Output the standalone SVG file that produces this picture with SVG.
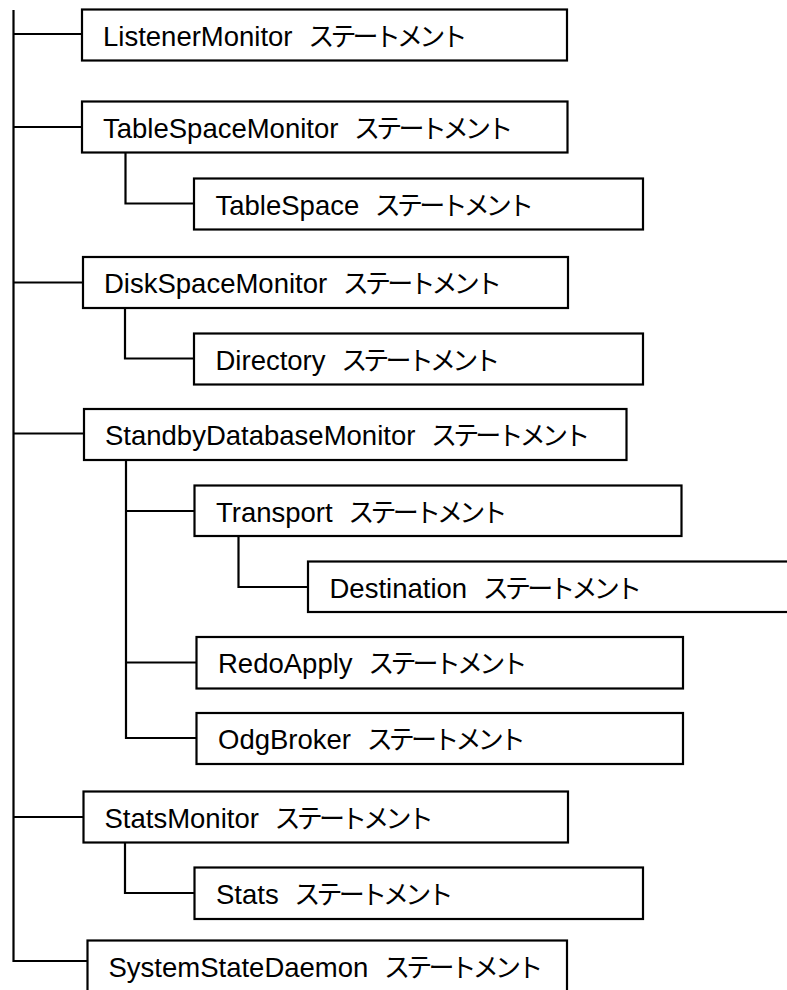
<svg xmlns="http://www.w3.org/2000/svg" width="787" height="990" viewBox="0 0 787 990">
<style>
.box{fill:#fff;stroke:#000;stroke-width:2.2}
.ln{fill:none;stroke:#000;stroke-width:2.2}
.lbl{font-family:"Liberation Sans",Arial,sans-serif;font-size:27.5px;fill:#000}
.jp{font-family:"Noto Sans CJK JP",sans-serif;font-size:26px;letter-spacing:-3.8px}
</style>
<rect width="787" height="990" fill="#fff"/>
<g id="connectors">
<path class="ln" d="M13.5 10V961H87.5"/>
<path class="ln" d="M13.5 34H82"/>
<path class="ln" d="M13.5 127H82"/>
<path class="ln" d="M13.5 282.5H83"/>
<path class="ln" d="M13.5 433.5H84"/>
<path class="ln" d="M13.5 817H83.5"/>
<path class="ln" d="M125.5 152.5V203.5H194"/>
<path class="ln" d="M125 308V358.5H194"/>
<path class="ln" d="M126 460V738H196.5"/>
<path class="ln" d="M126 511H194.5"/>
<path class="ln" d="M126 662.5H196.5"/>
<path class="ln" d="M238.5 536V587H308"/>
<path class="ln" d="M125 842.5V893H194.5"/>
</g>
<g id="n-listener"><rect class="box" x="82" y="9.5" width="485" height="51"/><text class="lbl" x="103" y="45.5">ListenerMonitor <tspan class="jp" dx="8">ステートメント</tspan></text></g>
<g id="n-tablespacemonitor"><rect class="box" x="82" y="101.5" width="485.5" height="51"/><text class="lbl" x="103" y="137.5">TableSpaceMonitor <tspan class="jp" dx="8">ステートメント</tspan></text></g>
<g id="n-tablespace"><rect class="box" x="194" y="178.5" width="449" height="51"/><text class="lbl" x="215.5" y="214.5">TableSpace <tspan class="jp" dx="8">ステートメント</tspan></text></g>
<g id="n-diskspacemonitor"><rect class="box" x="83" y="257" width="485" height="51"/><text class="lbl" x="104" y="293">DiskSpaceMonitor <tspan class="jp" dx="8">ステートメント</tspan></text></g>
<g id="n-directory"><rect class="box" x="194" y="333.5" width="449" height="51"/><text class="lbl" x="215.5" y="369.5">Directory <tspan class="jp" dx="8">ステートメント</tspan></text></g>
<g id="n-standby"><rect class="box" x="84" y="409" width="542.5" height="51"/><text class="lbl" x="105" y="445">StandbyDatabaseMonitor <tspan class="jp" dx="8">ステートメント</tspan></text></g>
<g id="n-transport"><rect class="box" x="194.5" y="485.5" width="487" height="50.5"/><text class="lbl" x="216" y="521.5">Transport <tspan class="jp" dx="8">ステートメント</tspan></text></g>
<g id="n-destination"><rect class="box" x="308" y="561.5" width="500" height="50.5"/><text class="lbl" x="329.5" y="597.5">Destination <tspan class="jp" dx="8">ステートメント</tspan></text></g>
<g id="n-redoapply"><rect class="box" x="196.5" y="637" width="486.5" height="51.5"/><text class="lbl" x="218" y="673">RedoApply <tspan class="jp" dx="8">ステートメント</tspan></text></g>
<g id="n-odgbroker"><rect class="box" x="196.5" y="713" width="486.5" height="51"/><text class="lbl" x="218" y="749">OdgBroker <tspan class="jp" dx="8">ステートメント</tspan></text></g>
<g id="n-statsmonitor"><rect class="box" x="83.5" y="791.5" width="484.5" height="51"/><text class="lbl" x="104.5" y="827.5">StatsMonitor <tspan class="jp" dx="8">ステートメント</tspan></text></g>
<g id="n-stats"><rect class="box" x="194.5" y="867.5" width="448.5" height="51.5"/><text class="lbl" x="216" y="903.5">Stats <tspan class="jp" dx="8">ステートメント</tspan></text></g>
<g id="n-systemstatedaemon"><rect class="box" x="87.5" y="940.5" width="479.5" height="70"/><text class="lbl" x="108.5" y="976.5">SystemStateDaemon <tspan class="jp" dx="8">ステートメント</tspan></text></g>
</svg>
